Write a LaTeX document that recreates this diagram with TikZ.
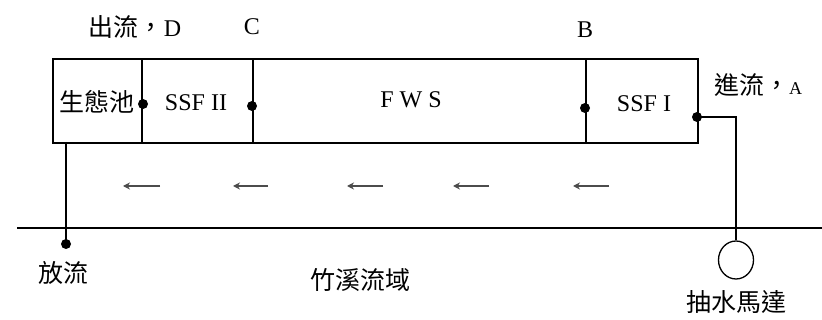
\documentclass[tikz,border=0pt]{standalone}
\usepackage{fontspec}
\setmainfont{Liberation Serif}
\newfontfamily\cjk{Noto Sans CJK TC}
\usetikzlibrary{shapes.geometric,arrows.meta}
\begin{document}
\begin{tikzpicture}[x=1pt,y=-1pt,
  cell/.style={draw,line width=1.8pt,minimum height=84pt,inner sep=0pt,anchor=north west},
  lbl/.style={inner sep=0pt,font=\fontsize{24}{24}\selectfont},
  zh/.style={inner sep=0pt,font=\cjk\fontsize{25}{25}\selectfont},
  pipe/.style={line width=1.8pt},
  dotc/.style={circle,fill=black,inner sep=0pt,minimum size=10pt},
  flow/.style={draw=gray!60!black,line width=1.1pt,-{Stealth[length=7pt,width=7pt]}}]
\useasboundingbox (0,0) rectangle (822,320);
% cells
\node[cell,minimum width=89pt]  (c1) at (52,58) {};
\node[cell,minimum width=111pt] (c2) at (141,58) {};
\node[cell,minimum width=333pt] (c3) at (252,58) {};
\node[cell,minimum width=112pt] (c4) at (585,58) {};
% labels in cells
\node[zh]  (t1) at (97,102) {生態池};
\node[lbl] (t2) at (196,103) {SSF II};
\node[lbl] (t3) at (411,100) {F W S};
\node[lbl] (t4) at (644,104) {SSF I};
% top labels
\node[zh]  (tD) at (135,27) {出流，\fontspec{Liberation Serif}\fontsize{24}{24}\selectfont D};
\node[lbl] (tC) at (252,27) {C};
\node[lbl] (tB) at (585,30) {B};
\node[zh]  (tA) at (758,85) {進流，\fontspec{Liberation Serif}\fontsize{18}{18}\selectfont A};
% dots
\node[dotc] (dD) at (143,104) {};
\node[dotc] (dC) at (252,106) {};
\node[dotc] (dB) at (585,108) {};
\node[dotc] (dA) at (697,117) {};
\node[dotc] (dOut) at (66,244) {};
% ground line
\coordinate (gL) at (17,228);
\coordinate (gR) at (822,228);
\draw[pipe] (gL) -- (gR);
% drain
\coordinate (drTop) at (66,142);
\draw[pipe] (drTop) -- (dOut.center);
% pump
\node[draw,ellipse,line width=1.3pt,minimum width=35pt,minimum height=38pt,inner sep=0pt] (pump) at (736,260) {};
\draw[pipe] (dA.center) -| (pump.north);
% bottom labels
\node[zh] (tOut) at (63,273) {放流};
\node[zh] (tBas) at (360,280) {竹溪流域};
\node[zh] (tPump) at (736,302) {抽水馬達};
% flow arrows
\foreach \s/\e [count=\i] in {160/123,268/233,383/347,489/453,609/573}{
  \coordinate (fs\i) at (\s,186);
  \coordinate (fe\i) at (\e,186);
  \draw[flow] (fs\i) -- (fe\i);
}
\end{tikzpicture}
\end{document}
